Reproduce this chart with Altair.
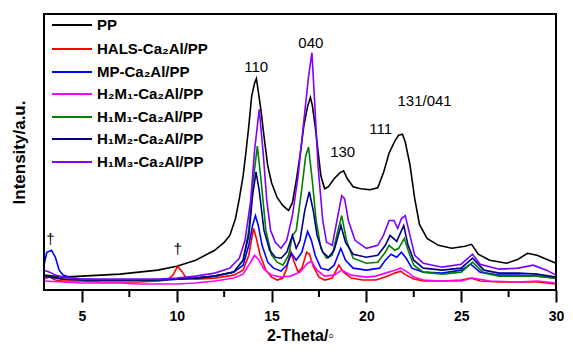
import altair as alt
import pandas as pd

FONT = "Liberation Sans"

# ---- series data (2-theta in degrees, intensity in arbitrary units) ----
pp_t = [3.0, 3.5, 4, 5, 6, 7, 8, 9, 10, 11, 12, 12.5, 12.8, 13.1, 13.3, 13.5, 13.65, 13.8, 13.95, 14.1, 14.2, 14.3, 14.45, 14.6, 14.8, 15.0, 15.3, 15.6, 15.9, 16.1, 16.3, 16.5, 16.7, 16.9, 17.05, 17.15, 17.3, 17.45, 17.6, 17.8, 18.0, 18.3, 18.6, 18.8, 19.0, 19.3, 19.7, 20.2, 20.6, 20.9, 21.2, 21.5, 21.7, 21.9, 22.05, 22.3, 22.55, 22.8, 23.2, 23.8, 24.5, 25.2, 25.55, 25.9, 26.5, 27.4, 28.0, 28.5, 29.0, 29.5, 30]
pp_y = [15, 14, 13, 14, 15, 16, 18, 20, 24, 30, 40, 48, 55, 72, 92, 115, 139, 165, 195, 208, 213, 200, 180, 155, 125, 108, 93, 85, 80, 88, 110, 135, 165, 185, 194, 186, 165, 140, 115, 102, 104, 112, 118, 120, 112, 104, 102, 101, 103, 118, 138, 150, 156, 157, 149, 126, 92, 66, 52, 45, 42, 44, 46, 36, 30, 27, 31, 37, 35, 31, 27]

hals_t = [3.0, 3.3, 3.6, 4, 5, 6, 7, 8, 9, 9.5, 9.8, 10.05, 10.3, 10.5, 11, 12, 13, 13.5, 13.8, 14.05, 14.2, 14.4, 14.7, 15.0, 15.3, 15.6, 15.8, 16.0, 16.2, 16.4, 16.6, 16.85, 17.0, 17.2, 17.5, 17.8, 18.2, 18.55, 18.8, 19.2, 19.8, 20.5, 21.0, 21.5, 21.8, 22.1, 22.5, 23, 24, 25, 25.5, 26, 27, 28, 29, 30]
hals_y = [11, 13, 10, 9, 9, 8, 8, 8, 9, 10, 15, 24, 18, 12, 11, 12, 15, 20, 35, 62, 52, 35, 20, 13, 10, 12, 22, 39, 28, 18, 22, 38, 36, 24, 13, 10, 12, 25, 18, 12, 10, 10, 13, 17, 19, 15, 11, 9, 9, 10, 12, 9, 8, 8, 8, 6]

mp_t = [3.0, 3.15, 3.4, 3.6, 3.8, 4.0, 4.5, 5, 6, 7, 8, 9, 10, 11, 12, 13, 13.5, 13.8, 14.0, 14.15, 14.3, 14.5, 14.8, 15.1, 15.5, 15.8, 16.05, 16.3, 16.6, 16.9, 17.1, 17.3, 17.6, 18.0, 18.3, 18.65, 18.9, 19.3, 20, 20.7, 21.0, 21.3, 21.6, 21.85, 22.1, 22.4, 23, 24, 25, 25.5, 26, 27, 28, 29, 30]
mp_y = [25, 38, 40, 33, 20, 15, 12, 11, 10, 10, 10, 10, 11, 12, 14, 18, 25, 45, 65, 75, 65, 45, 28, 22, 19, 25, 37, 30, 38, 59, 50, 35, 22, 20, 25, 42, 30, 22, 20, 22, 30, 36, 33, 38, 32, 22, 18, 17, 20, 26, 18, 15, 15, 14, 12]

h2m1_t = [3, 4, 5, 6, 7, 8, 9, 10, 11, 12, 13, 13.5, 13.8, 14.1, 14.3, 14.6, 15.0, 15.5, 16.0, 16.5, 16.9, 17.1, 17.4, 17.8, 18.3, 18.7, 19.2, 20, 20.5, 21, 21.5, 21.8, 22.1, 22.5, 23, 24, 25, 25.6, 26.5, 28, 29, 30]
h2m1_y = [9, 8, 7, 7, 7, 6, 6, 6, 7, 9, 12, 16, 25, 35, 31, 21, 15, 13, 14, 18, 27, 29, 20, 14, 15, 20, 15, 13, 14, 17, 20, 22, 19, 13, 10, 9, 9, 12, 9, 8, 9, 7]

h1m1_t = [3, 3.5, 4, 5, 6, 7, 8, 9, 10, 11, 12, 13, 13.5, 13.8, 14.0, 14.25, 14.45, 14.7, 15.0, 15.3, 15.6, 15.9, 16.1, 16.3, 16.55, 16.8, 16.95, 17.15, 17.35, 17.6, 17.9, 18.2, 18.5, 18.7, 18.95, 19.3, 20, 20.6, 21.0, 21.2, 21.5, 21.7, 22.0, 22.2, 22.5, 23, 24, 25, 25.6, 26.2, 27, 28, 29, 30]
h1m1_y = [14, 13, 11, 10, 10, 10, 10, 10, 11, 12, 14, 18, 30, 60, 105, 145, 110, 60, 35, 28, 25, 35, 55, 60, 95, 135, 144, 110, 70, 42, 32, 35, 60, 75, 50, 32, 27, 28, 38, 45, 40, 42, 52, 40, 25, 18, 16, 18, 28, 17, 14, 14, 14, 12]

h1m2_t = [3, 4, 5, 6, 7, 8, 9, 10, 11, 12, 13, 13.5, 13.8, 14.0, 14.18, 14.35, 14.6, 14.9, 15.2, 15.5, 15.8, 16.1, 16.3, 16.5, 16.75, 16.99, 17.2, 17.4, 17.7, 18.0, 18.3, 18.66, 18.9, 19.3, 20, 20.6, 21.0, 21.25, 21.6, 21.97, 22.2, 22.5, 23, 24, 25, 25.6, 26.2, 27, 28, 29, 30]
h1m2_y = [14, 11, 10, 10, 10, 10, 10, 11, 12, 14, 18, 30, 55, 95, 119, 100, 60, 40, 33, 32, 38, 55, 42, 50, 80, 99, 80, 55, 38, 33, 40, 65, 48, 36, 33, 35, 45, 55, 49, 65, 45, 30, 22, 20, 22, 32, 20, 17, 17, 16, 13]

h1m3_t = [3, 3.3, 3.6, 4, 5, 6, 7, 8, 9, 10, 11, 12, 12.8, 13.3, 13.6, 13.9, 14.1, 14.35, 14.55, 14.75, 14.95, 15.2, 15.5, 15.8, 16.1, 16.4, 16.7, 16.95, 17.13, 17.27, 17.45, 17.7, 17.9, 18.2, 18.45, 18.7, 18.85, 19.05, 19.4, 20.0, 20.6, 20.9, 21.2, 21.45, 21.65, 21.85, 22.05, 22.3, 22.55, 23, 24, 25, 25.6, 26, 27, 28, 28.8, 29.5, 30]
h1m3_y = [20, 18, 15, 13, 11, 11, 11, 11, 11, 12, 14, 17, 22, 32, 50, 90, 140, 182, 140, 90, 60, 48, 42, 50, 75, 115, 170, 215, 239, 190, 125, 70, 48, 45, 70, 95, 92, 70, 50, 42, 45, 55, 70, 70, 62, 72, 75, 55, 35, 27, 23, 26, 36, 26, 21, 22, 25, 20, 15]

series_names = ["PP", "HALS-Ca₂Al/PP", "MP-Ca₂Al/PP", "H₂M₁-Ca₂Al/PP",
                "H₁M₁-Ca₂Al/PP", "H₁M₂-Ca₂Al/PP", "H₁M₃-Ca₂Al/PP"]
series_colors = ["#000000", "#ff0000", "#0000ff", "#ff00ff", "#008000", "#000080", "#8000ff"]
series_data = [(pp_t, pp_y), (hals_t, hals_y), (mp_t, mp_y), (h2m1_t, h2m1_y),
               (h1m1_t, h1m1_y), (h1m2_t, h1m2_y), (h1m3_t, h1m3_y)]

# peak annotations (position in data coordinates)
peak_labels = ["110", "040", "130", "111", "131/041", "†", "†"]
peak_theta = [14.19, 17.07, 18.75, 20.75, 23.07, 3.34, 10.05]
peak_height = [225, 249, 139, 162, 190, 51, 41]

x_ticks = [5, 10, 15, 20, 25, 30]
x_minor = [7.5, 12.5, 17.5, 22.5, 27.5]

W, H = 512, 276
xscale = alt.Scale(domain=[3, 30], nice=False, zero=False)
yscale = alt.Scale(domain=[0, 278], nice=False, zero=False)

x_axis = alt.Axis(values=x_ticks, title="2-Theta/◦", labelFont=FONT, labelFontSize=14,
                  labelFontWeight="bold", labelColor="black", tickSize=12, tickWidth=2,
                  tickColor="black", domain=False, grid=False, labelPadding=7,
                  labelFlush=False, titleFont=FONT, titleFontSize=16, titleFontWeight="bold",
                  titleColor="black", titleY=50, titleBaseline="alphabetic")
y_axis = alt.Axis(title="Intensity/a.u.", labels=False, ticks=False, domain=False, grid=False,
                  titleFont=FONT, titleFontSize=17, titleFontWeight="bold", titleColor="black",
                  titleX=-25, titleY=138, titleAngle=270, titleAlign="center",
                  titleBaseline="middle")


def X(field="theta"):
    return alt.X(f"{field}:Q", scale=xscale, axis=x_axis)


def Y(field="intensity"):
    return alt.Y(f"{field}:Q", scale=yscale, axis=y_axis)


layers = []
for name, color, (t, y) in zip(series_names, series_colors, series_data):
    df = pd.DataFrame({"theta": t, "intensity": y})
    layers.append(alt.Chart(df).mark_line(color=color, strokeWidth=1.6).encode(
        x=X(), y=Y(), order="theta:Q"))

# minor ticks
minor_df = pd.DataFrame({"theta": x_minor})
layers.append(alt.Chart(minor_df).mark_rule(color="black", strokeWidth=2).encode(
    x=X(), y=alt.value(H), y2=alt.value(H + 7)))

# peak labels
ann_df = pd.DataFrame({"label": peak_labels, "theta": peak_theta, "intensity": peak_height})
layers.append(alt.Chart(ann_df).mark_text(font=FONT, fontSize=15, color="black",
                                          align="center", baseline="middle").encode(
    x=X(), y=Y(), text="label:N"))

# legend (manual)
leg_y = [11, 35, 58, 80, 103, 125, 148]
for name, color, ly in zip(series_names, series_colors, leg_y):
    d = pd.DataFrame({"name": [name]})
    layers.append(alt.Chart(d).mark_rule(color=color, strokeWidth=2).encode(
        x=alt.value(8), x2=alt.value(48), y=alt.value(ly)))
    layers.append(alt.Chart(d).mark_text(font=FONT, fontSize=15, fontWeight="bold",
                                         color="black", align="left",
                                         baseline="middle").encode(
        x=alt.value(53), y=alt.value(ly), text="name:N"))

# plot frame
frame_df = pd.DataFrame({"k": [0]})
layers.append(alt.Chart(frame_df).mark_rect(fillOpacity=0, stroke="black", strokeWidth=2).encode(
    x=alt.value(0), x2=alt.value(W), y=alt.value(0), y2=alt.value(H)))

chart = alt.layer(*layers).properties(
    width=W, height=H,
    autosize=alt.AutoSizeParams(type="none"),
    padding={"left": 36, "top": 6, "right": 9, "bottom": 54},
).configure_view(strokeWidth=0)

chart.save("out.html", embed_options={"renderer": "svg", "actions": False})
